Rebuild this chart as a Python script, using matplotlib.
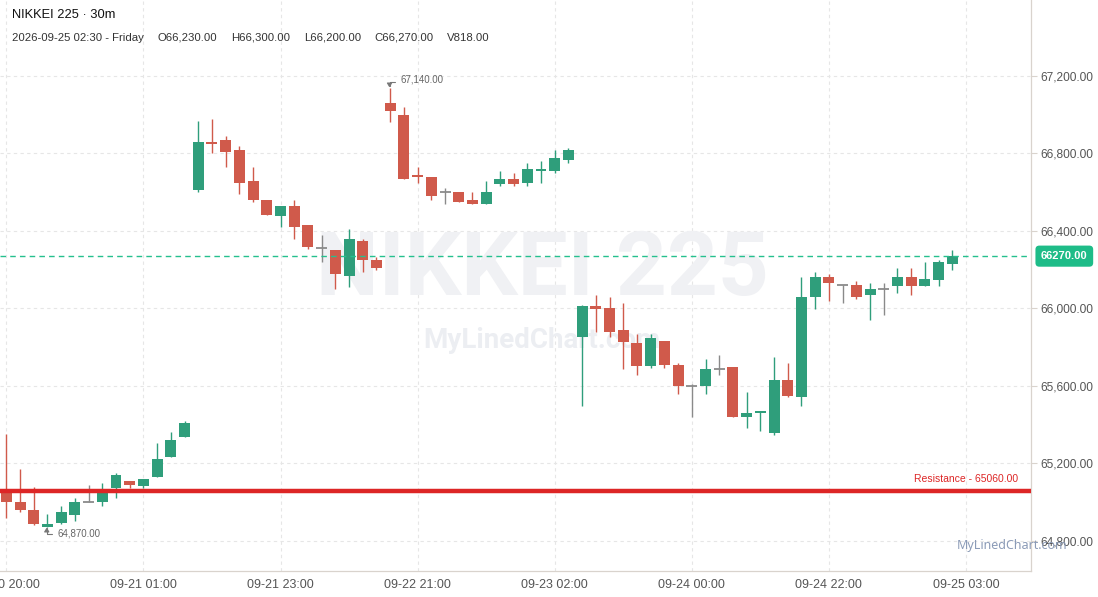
import matplotlib
matplotlib.use("Agg")
import matplotlib.pyplot as plt
import matplotlib.transforms as mtransforms
import numpy as np

# ---------------- data ----------------
opens = [65070, 65000, 64960, 64870, 64895, 64935, 65000, 65000, 65075, 65110,
         65085, 65130, 65235, 65335, 66610, 66860, 66870, 66820, 66660, 66560,
         66475, 66530, 66430, 66310, 66300, 66170, 66350, 66250, 67060, 67000,
         66690, 66680, 66600, 66600, 66560, 66540, 66640, 66670, 66650, 66710,
         66710, 66765, 65855, 66015, 66000, 65890, 65820, 65705, 65830, 65710,
         65600, 65600, 65690, 65700, 65440, 65460, 65355, 65630, 65545, 66060,
         66160, 66120, 66120, 66070, 66100, 66115, 66160, 66115, 66145, 66230]
highs = [65350, 65170, 65080, 64940, 64980, 65020, 65090, 65100, 65150, 65110,
         65120, 65305, 65360, 65420, 66970, 66980, 66890, 66840, 66730, 66560,
         66530, 66560, 66430, 66380, 66300, 66410, 66360, 66265, 67140, 67040,
         66730, 66680, 66620, 66600, 66600, 66660, 66710, 66700, 66750, 66760,
         66820, 66830, 66020, 66070, 66060, 66030, 65870, 65870, 65830, 65720,
         65610, 65740, 65760, 65700, 65570, 65470, 65750, 65720, 66160, 66190,
         66180, 66120, 66140, 66130, 66130, 66210, 66210, 66240, 66250, 66300]
lows = [64920, 64950, 64880, 64870, 64890, 64905, 65000, 64980, 65020, 65075,
        65075, 65130, 65235, 65335, 66600, 66800, 66730, 66590, 66550, 66480,
        66420, 66360, 66305, 66240, 66100, 66110, 66190, 66200, 66960, 66670,
        66650, 66560, 66540, 66550, 66540, 66540, 66630, 66630, 66630, 66650,
        66700, 66750, 65495, 65880, 65855, 65685, 65655, 65695, 65695, 65560,
        65440, 65560, 65655, 65440, 65385, 65365, 65345, 65545, 65495, 65995,
        66040, 66030, 66050, 65940, 65965, 66080, 66070, 66115, 66115, 66200]
closes = [65000, 64960, 64885, 64890, 64950, 65000, 65000, 65060, 65140, 65090,
          65120, 65225, 65320, 65410, 66860, 66850, 66810, 66650, 66560, 66480,
          66530, 66420, 66315, 66310, 66180, 66360, 66250, 66210, 67020, 66670,
          66680, 66580, 66600, 66550, 66540, 66600, 66670, 66640, 66720, 66720,
          66775, 66820, 66015, 65995, 65880, 65825, 65705, 65845, 65710, 65600,
          65600, 65690, 65690, 65440, 65460, 65470, 65630, 65550, 66060, 66160,
          66130, 66120, 66060, 66100, 66100, 66160, 66115, 66150, 66240, 66270]
last_volume = 818.00

tick_idx = [0, 10, 20, 30, 40, 50, 60, 70]
tick_labels = ["09-20 20:00", "09-21 01:00", "09-21 23:00", "09-22 21:00",
               "09-23 02:00", "09-24 00:00", "09-24 22:00", "09-25 03:00"]
y_ticks = [64800, 65200, 65600, 66000, 66400, 66800, 67200]

resistance = 65060.00
current_price = 66270.00
title = "NIKKEI 225 · 30m"
last_time = "2026-09-25 02:30 - Friday"

# ---------------- style ----------------
GREEN = "#2f9e7b"
RED = "#d05a4b"
GRAY = "#8a8a8a"
W, H, DPI = 1098, 597, 100
WM_FONT = ["Roboto", "DejaVu Sans"]

fig = plt.figure(figsize=(W / DPI, H / DPI), dpi=DPI)
fig.patch.set_facecolor("white")
ax = fig.add_axes([0, (H - 571) / H, 1031 / W, 571 / H])
ax.set_facecolor("white")

n = len(opens)
x = np.arange(n)
o = np.array(opens, float); c = np.array(closes, float)
hi = np.array(highs, float); lo = np.array(lows, float)

ax.set_xlim(-0.46, 74.74)
ax.set_ylim(64645, 67592)

# grid
for t in y_ticks:
    ax.axhline(t, color="#e6e6e6", lw=0.8, ls=(0, (3, 3)), zorder=0)
for t in tick_idx:
    ax.axvline(t, color="#e6e6e6", lw=0.8, ls=(0, (3, 3)), zorder=0)

# watermarks
ax.text(542 / 1031, 1 - 271 / 571, "NIKKEI 225", transform=ax.transAxes,
        ha="center", va="center", fontsize=64, fontweight="bold",
        family=WM_FONT, color="#f0f1f4", zorder=0.5)
ax.text(542 / 1031, 1 - 341 / 571, "MyLinedChart.com", transform=ax.transAxes,
        ha="center", va="center", fontsize=20, fontweight="bold",
        family=WM_FONT, color="#eceef2", zorder=0.5)

# candles
colors = [GREEN if cc > oo else (RED if cc < oo else GRAY) for oo, cc in zip(o, c)]
ax.vlines(x, lo, hi, colors=colors, lw=1.0, zorder=2)
body_w = 0.8
for i in range(n):
    if c[i] == o[i]:
        ax.hlines(o[i], i - body_w / 2, i + body_w / 2, colors=GRAY, lw=1.3, zorder=3)
    else:
        b = min(o[i], c[i]); h = abs(c[i] - o[i])
        ax.bar(i, h, bottom=b, width=body_w, color=colors[i], lw=0, zorder=3)

# resistance line
ax.axhline(resistance, color="#dd2626", lw=3.2, zorder=4)
ax.annotate(f"Resistance - {resistance:.2f}", xy=(1018 / 1031, resistance),
            xycoords=("axes fraction", "data"), xytext=(0, 5), textcoords="offset points",
            ha="right", va="bottom", fontsize=7.5, color="#dd2626", family="Liberation Sans")

# current price line
ax.axhline(current_price, color="#25c08e", lw=1.0, ls=(0, (4, 3)), zorder=4)
ax.text(1.0 + 10 / 1031, current_price, f"{current_price:.2f}",
        transform=mtransforms.blended_transform_factory(ax.transAxes, ax.transData),
        ha="left", va="center", fontsize=8, fontweight="bold", color="white",
        family="Liberation Sans", clip_on=False, zorder=6,
        bbox=dict(boxstyle="round,pad=0.5,rounding_size=0.35", fc="#1ebc88", ec="none"))

# high / low annotations
imax = int(np.argmax(hi)); imin = int(np.argmin(lo))
ax.annotate("", xy=(imax - 0.05, hi[imax]), xytext=(4, 4), textcoords="offset points",
            arrowprops=dict(arrowstyle="-|>,head_length=0.25,head_width=0.15", color="#777777", lw=0.8,
                            connectionstyle="angle,angleA=0,angleB=90,rad=0", shrinkA=0, shrinkB=0))
ax.annotate(f"{hi[imax]:,.2f}", xy=(imax, hi[imax]), xytext=(7.5, 5.5), textcoords="offset points",
            ha="left", va="center", fontsize=7, color="#666666", family="Liberation Sans")
ax.annotate("", xy=(imin - 0.05, lo[imin]), xytext=(4, -5), textcoords="offset points",
            arrowprops=dict(arrowstyle="-|>,head_length=0.25,head_width=0.15", color="#777777", lw=0.8,
                            connectionstyle="angle,angleA=0,angleB=90,rad=0", shrinkA=0, shrinkB=0))
ax.annotate(f"{lo[imin]:,.2f}", xy=(imin, lo[imin]), xytext=(7.5, -4.5), textcoords="offset points",
            ha="left", va="center", fontsize=7, color="#666666", family="Liberation Sans")

# axes styling
for s in ["top", "left"]:
    ax.spines[s].set_visible(False)
for s in ["right", "bottom"]:
    ax.spines[s].set_color("#d9d3cd")
    ax.spines[s].set_linewidth(0.9)
ax.yaxis.tick_right()
ax.set_yticks(y_ticks)
ax.set_yticklabels([f"{v:,.2f}" for v in y_ticks], family="Liberation Sans",
                   fontsize=8.6, color="#555555")
ax.tick_params(axis="y", length=4, width=0.8, color="#d9d3cd", pad=2.5)
ax.set_xticks(tick_idx)
ax.set_xticklabels(tick_labels, family="Liberation Sans", fontsize=9, color="#555555")
ax.tick_params(axis="x", length=0, pad=6)

# header
fig.text(12 / W, 1 - 15 / H, title, ha="left", va="center", fontsize=9.3,
         color="#111111", family="Liberation Sans")
hdr = [last_time, f"O{opens[-1]:,.2f}", f"H{highs[-1]:,.2f}", f"L{lows[-1]:,.2f}",
       f"C{closes[-1]:,.2f}", f"V{last_volume:.2f}"]
hdr_x = [12, 157, 231, 304, 374, 447]
for t, px in zip(hdr, hdr_x):
    fig.text(px / W, 1 - 38 / H, t, ha="left", va="center", fontsize=8.2,
             color="#333333", family="Liberation Sans")

# bottom-right brand
fig.text(1012 / W, 1 - 545 / H, "MyLinedChart.com", ha="center", va="center",
         fontsize=9, fontweight="bold", color="#8b9bb7", family="Noto Sans", zorder=10)

fig.savefig("out.png", dpi=DPI, facecolor="white")
